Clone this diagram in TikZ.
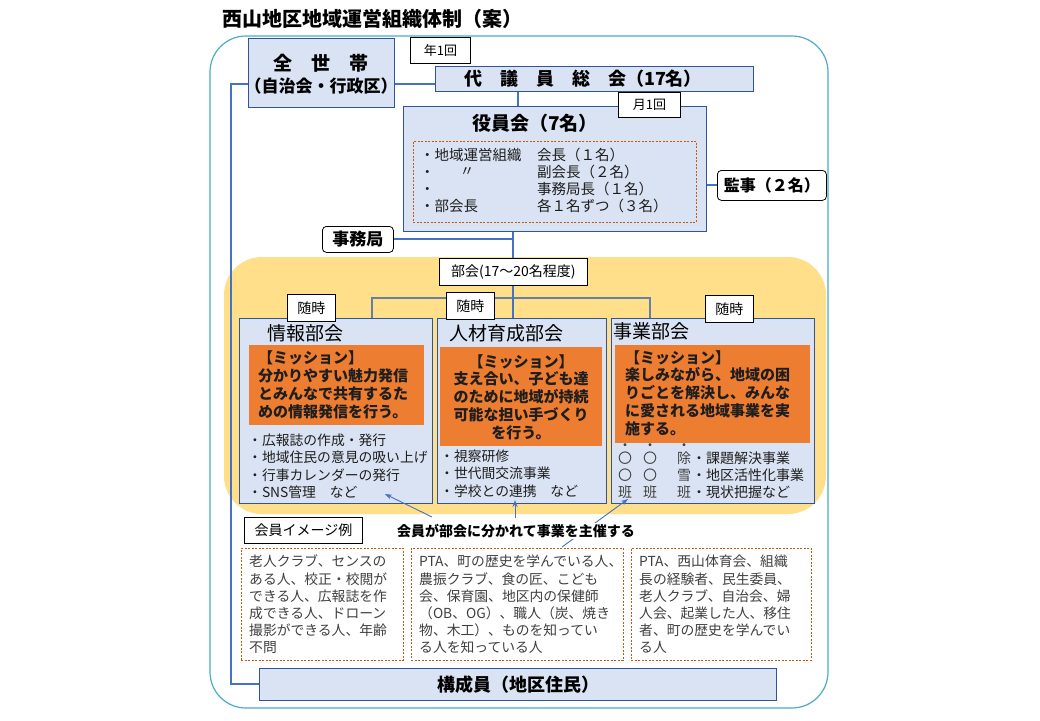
\documentclass[tikz,border=0pt]{standalone}
\usepackage{fontspec}
\setmainfont{Noto Sans CJK JP}
\usetikzlibrary{arrows.meta}
\pgfdeclarelayer{back}
\pgfdeclarelayer{lines}
\pgfsetlayers{back,lines,main}
\definecolor{lblue}{RGB}{218,227,243}
\definecolor{bborder}{RGB}{47,85,151}
\definecolor{cblue}{RGB}{68,114,196}
\definecolor{gblue}{RGB}{100,128,164}
\definecolor{outerc}{RGB}{75,172,198}
\definecolor{yel}{RGB}{255,223,137}
\definecolor{orangeM}{RGB}{237,125,49}
\definecolor{dbrown}{RGB}{197,90,17}
\definecolor{txtgray}{RGB}{64,64,64}
\definecolor{txtdark}{RGB}{30,30,30}
\newcommand{\myfs}[2]{\fontsize{#1}{#2}\selectfont}
\tikzset{
  bluebox/.style={draw=bborder, fill=lblue, line width=1pt, inner sep=0pt, anchor=north west},
  wbox/.style={draw=black, fill=white, line width=0.8pt, inner sep=0pt, anchor=north west},
  rbox/.style={draw=black, fill=white, line width=0.8pt, inner sep=0pt, anchor=north west, rounded corners=4pt},
  conn/.style={draw=cblue, line width=2.1pt},
  branch/.style={draw=gblue, line width=2.1pt},
  arr/.style={draw=cblue, line width=0.9pt, -{Stealth[length=7pt,width=5pt]}},
  obox/.style={fill=orangeM, draw=none, inner sep=0pt, anchor=north west},
  dbox/.style={draw=dbrown, line width=0.8pt, dash pattern=on 2pt off 1.5pt, inner sep=0pt, anchor=north west},
  txt/.style={inner sep=0pt},
  ltxt/.style={inner sep=0pt, anchor=west, align=left},
}
\begin{document}
\begin{tikzpicture}[x=1pt,y=-1pt]
\useasboundingbox (0,0) rectangle (1040,720);
\begin{pgfonlayer}{back}
  \fill[white] (0,0) rectangle (1040,720);
  \draw[outerc, line width=1.2pt, rounded corners=36pt] (210,36) rectangle (828,708);
  \fill[yel, rounded corners=38pt] (224,257) rectangle (826,514);
\end{pgfonlayer}

% title
\node[txt, anchor=west, font=\myfs{20}{24}\bfseries] (title) at (222,19) {西山地区地域運営組織体制（案）};

% top boxes
\node[bluebox, minimum width=146pt, minimum height=69pt] (zensetai) at (248,38) {};
\node[txt, font=\myfs{19}{22}\bfseries] (zs1) at (321,63) {全　世　帯};
\node[txt, font=\myfs{17}{20}\bfseries] (zs2) at (321,86) {（自治会・行政区）};

\node[wbox, minimum width=60pt, minimum height=26pt, font=\myfs{13}{15}] (nen) at (410,37) {年1回};
\node[bluebox, minimum width=318pt, minimum height=25pt] (daigiin) at (435,66) {};
\node[txt, font=\myfs{18}{22}\bfseries] (daigiinT) at (583,78.5) {代　議　員　総　会（17名）};

\node[bluebox, minimum width=303pt, minimum height=125pt] (yakuin) at (403,106) {};
\node[wbox, minimum width=62pt, minimum height=25pt, font=\myfs{13}{15}] (tsuki) at (618,92) {月1回};
\node[txt, font=\myfs{19}{22}\bfseries] (yakuinT) at (535,123) {役員会（7名）};
\node[dbox, minimum width=283pt, minimum height=81pt] (yakuinL) at (413,141) {};
\node[ltxt, font=\myfs{14.5}{17}, text=txtdark] (yl1) at (420,180.5) {・地域運営組織\\・\\・\\・部会長};
\node[txt, font=\myfs{14.5}{17}, text=txtdark] (yl2) at (467,172) {〃};
\node[ltxt, font=\myfs{14.5}{17}, text=txtdark] (yl3) at (537,180.5) {会長（１名）\\副会長（２名）\\事務局長（１名）\\各１名ずつ（３名）};

\node[rbox, minimum width=109pt, minimum height=30pt, font=\myfs{16}{18}\bfseries] (kanji) at (717,170) {監事（２名）};
\node[rbox, minimum width=71pt, minimum height=26pt, font=\myfs{17}{20}\bfseries] (jimu) at (322,226) {事務局};

% bukai
\node[wbox, minimum width=148pt, minimum height=27pt, font=\myfs{14}{16}] (bukai) at (439,258) {部会(17～20名程度)};

\node[bluebox, minimum width=193pt, minimum height=185pt] (joho) at (239,318) {};
\node[bluebox, minimum width=169pt, minimum height=185pt] (jinzai) at (437,318) {};
\node[bluebox, minimum width=203pt, minimum height=185pt] (jigyo) at (611,318) {};

\node[wbox, minimum width=48pt, minimum height=27pt, font=\myfs{14}{16}] (zuiji1) at (287,294) {随時};
\node[wbox, minimum width=48pt, minimum height=27pt, font=\myfs{14}{16}] (zuiji2) at (446,292) {随時};
\node[wbox, minimum width=48pt, minimum height=27pt, font=\myfs{14}{16}] (zuiji3) at (705,295) {随時};

\node[txt, anchor=west, font=\myfs{19}{22}] (johoT) at (267,333) {情報部会};
\node[txt, anchor=west, font=\myfs{19}{22}] (jinzaiT) at (449,333) {人材育成部会};
\node[txt, anchor=west, font=\myfs{19}{22}] (jigyoT) at (613,331) {事業部会};

\node[obox, minimum width=175pt, minimum height=80pt] (joM) at (249,345) {};
\node[obox, minimum width=162pt, minimum height=99pt] (jiM) at (440,347) {};
\node[obox, minimum width=195pt, minimum height=98pt] (jgM) at (615,345) {};

\node[ltxt, font=\myfs{15}{17.8}\bfseries, text=txtdark] (joMT) at (258,385) {【ミッション】\\分かりやすい魅力発信\\とみんなで共有するた\\めの情報発信を行う。};
\node[txt, align=center, font=\myfs{15}{17.8}\bfseries, text=txtdark] (jiMT) at (521,397) {【ミッション】\\支え合い、子ども達\\のために地域が持続\\可能な担い手づくり\\を行う。};
\node[ltxt, font=\myfs{15}{17.8}\bfseries, text=txtdark] (jgMT) at (625,393) {【ミッション】\\楽しみながら、地域の困\\りごとを解決し、みんな\\に愛される地域事業を実\\施する。};

\node[ltxt, font=\myfs{13.8}{17.5}, text=txtdark] (joL) at (248,466) {・広報誌の作成・発行\\・地域住民の意見の吸い上げ\\・行事カレンダーの発行\\・SNS管理　など};
\node[ltxt, font=\myfs{13.8}{17.5}, text=txtdark] (jiL) at (440,473.5) {・視察研修\\・世代間交流事業\\・学校との連携　など};
\node[txt, font=\myfs{14}{17}, text=txtgray] (jgD1) at (625,447) {・};
\node[txt, font=\myfs{14}{17}, text=txtgray] (jgD2) at (650,447) {・};
\node[txt, font=\myfs{14}{17}, text=txtgray] (jgD3) at (684,447) {・};
\node[txt, align=center, font=\myfs{14}{17}, text=txtgray] (jgV1) at (625,475) {〇\\〇\\班};
\node[txt, align=center, font=\myfs{14}{17}, text=txtgray] (jgV2) at (650,475) {〇\\〇\\班};
\node[txt, align=center, font=\myfs{14}{17}, text=txtgray] (jgV3) at (684,475) {除\\雪\\班};
\node[ltxt, font=\myfs{14}{17}, text=txtdark] (jgL) at (692,475) {・課題解決事業\\・地区活性化事業\\・現状把握など};

% arrows
\coordinate (a1s) at (432,517);
\coordinate (a1e) at (385,494);
\coordinate (a2s) at (515,518);
\coordinate (a2e) at (515,500);
\coordinate (a3s) at (562,547);
\coordinate (a3e) at (628,499);
\draw[arr] (a1s) -- (a1e);
\draw[arr] (a2s) -- (a2e);
\draw[arr] (a3s) -- (a3e);

\node[fill=white, inner sep=1pt, font=\myfs{14}{16}\bfseries] (caption) at (516,531) {会員が部会に分かれて事業を主催する};
\node[wbox, minimum width=118pt, minimum height=26pt, font=\myfs{14}{16}] (imgex) at (244,517) {会員イメージ例};

\node[dbox, fill=white, minimum width=162pt, minimum height=112pt] (m1) at (241,548) {};
\node[dbox, fill=white, minimum width=212pt, minimum height=112pt] (m2) at (411,548) {};
\node[dbox, fill=white, minimum width=180pt, minimum height=112pt] (m3) at (631,548) {};
\node[ltxt, font=\myfs{13.8}{17.2}, text=txtgray] (m1T) at (249,604.5) {老人クラブ、センスの\\ある人、校正・校閲が\\できる人、広報誌を作\\成できる人、ドローン\\撮影ができる人、年齢\\不問};
\node[ltxt, font=\myfs{13.8}{17.2}, text=txtgray] (m2T) at (419,604.5) {PTA、町の歴史を学んでいる人、\\農振クラブ、食の匠、こども\\会、保育園、地区内の保健師\\（OB、OG）、職人（炭、焼き\\物、木工）、ものを知ってい\\る人を知っている人};
\node[ltxt, font=\myfs{13.8}{17.2}, text=txtgray] (m3T) at (639,604.5) {PTA、西山体育会、組織\\長の経験者、民生委員、\\老人クラブ、自治会、婦\\人会、起業した人、移住\\者、町の歴史を学んでい\\る人};

\node[bluebox, minimum width=517pt, minimum height=32pt, font=\myfs{18}{22}\bfseries] (kosei) at (259,668) {構成員（地区住民）};

% connectors
\coordinate (dv) at (518,98);
\coordinate (tr) at (513,299);
\coordinate (brL) at (372,298);
\coordinate (brR) at (650,298);
\coordinate (L1) at (231,84);
\coordinate (L2) at (231,684);
\begin{pgfonlayer}{lines}
  \draw[conn] (zensetai.east |- L1) -- (daigiin.west |- L1);
  \draw[conn] (zensetai.west |- L1) -- (L1) -- (L2) -- (kosei.west |- L2);
  \draw[conn] (dv |- daigiin.south) -- (dv |- yakuin.north);
  \draw[conn] (kanji.west) -- (kanji.west -| yakuin.east);
  \draw[branch] (brL |- joho.north) -- (brL) -- (brR) -- (brR |- jigyo.north);
  \draw[conn] (tr |- yakuin.south) -- (tr |- jinzai.north);
  \draw[conn] (jimu.east) -- (jimu.east -| tr);
\end{pgfonlayer}
\end{tikzpicture}
\end{document}
